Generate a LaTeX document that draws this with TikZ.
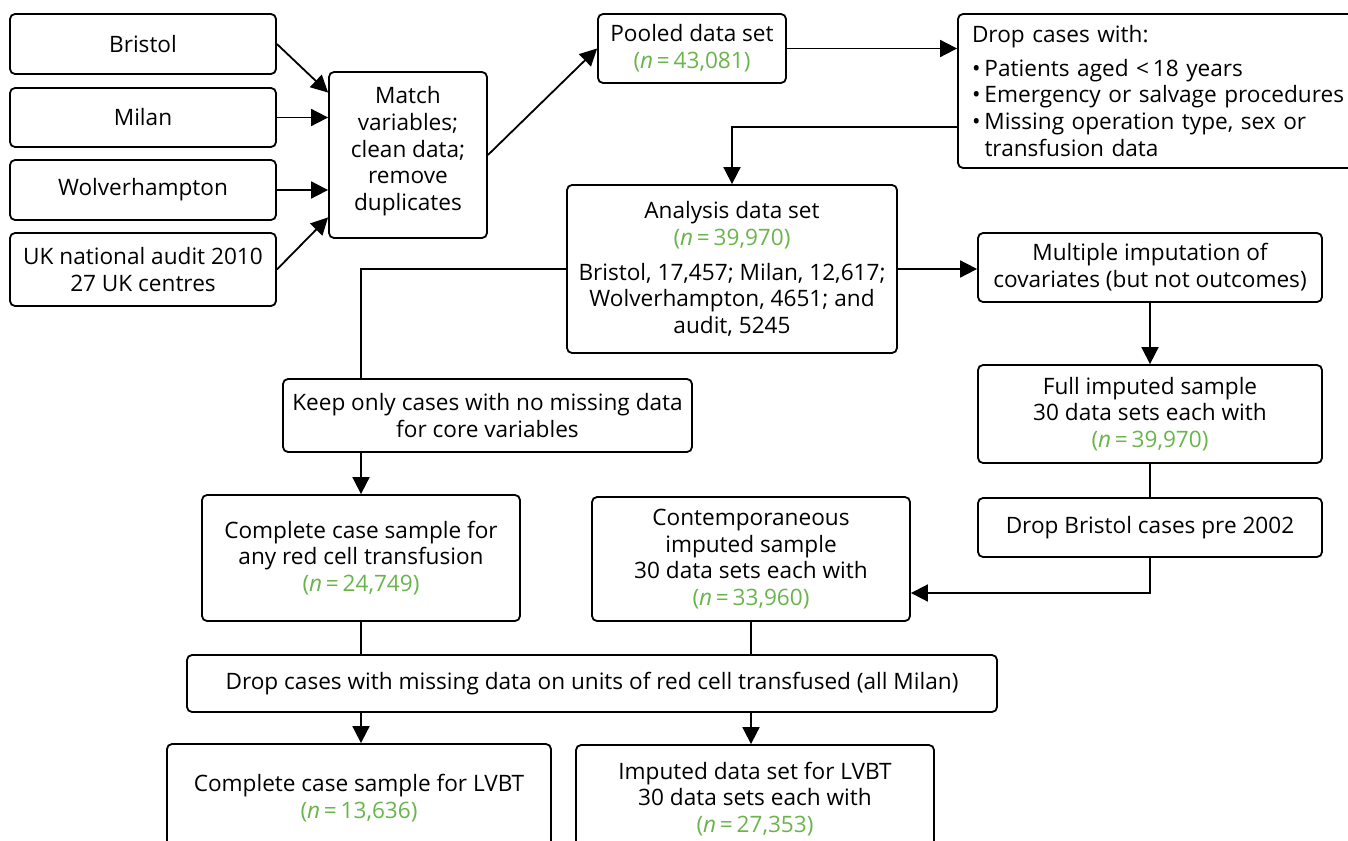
\documentclass[tikz,border=0pt]{standalone}
\usepackage{fontspec}
\setmainfont{Open Sans}
\usetikzlibrary{arrows.meta,calc}
\definecolor{nGreen}{RGB}{106,180,76}
\newcommand{\nval}[1]{{\color{nGreen}(\textit{n}\,=\,#1)}}
\newcommand{\bul}{\textbullet\hspace{4pt}}
\begin{document}
\begin{tikzpicture}[x=1pt,y=-1pt,
  box/.style={draw, line width=1.8pt, rounded corners=5pt, align=center,
    inner sep=0pt, font=\fontsize{22.6}{26.8}\selectfont},
  link/.style={line width=1.8pt},
  arr/.style={link, -{Triangle[length=17pt,width=17pt]}}]
\useasboundingbox (0,0) rectangle (1348,840);

% data sources
\node[box, minimum width=266, minimum height=60] (bristol) at (143,44) {Bristol};
\node[box, minimum width=266, minimum height=59] (milan) at (143,117.5) {Milan};
\node[box, minimum width=266, minimum height=60] (wolv) at (143,190) {Wolverhampton};
\node[box, minimum width=266, minimum height=73] (ukaudit) at (143,269.5) {UK national audit 2010\\27 UK centres};
\node[box, minimum width=158, minimum height=166] (match) at (408,155) {Match\\variables;\\clean data;\\remove\\duplicates\\[-14pt]\mbox{}};

% pooling and exclusions
\node[box, minimum width=410, minimum height=154, text width=382pt, inner xsep=14pt, align=left] (dropA) at (1163,91)
  {\hyphenpenalty=10000 Drop cases with:\\[7pt]
   \bul Patients aged <\,18 years\\
   \bul Emergency or salvage procedures\\
   \bul Missing operation type, sex or\\
   \phantom{\bul}transfusion data};
\node[box, minimum width=188, minimum height=69] (pooled) at (692,48.5) {Pooled data set\\\nval{43,081}};
\node[box, minimum width=330, minimum height=168] (analysis) at (732,269)
  {Analysis data set\\\nval{39,970}\\[8pt]
   Bristol, 17,457; Milan, 12,617;\\Wolverhampton, 4651; and\\audit, 5245};

% imputation branch
\node[box, minimum width=344, minimum height=69] (multi) at (1150,267.5) {Multiple imputation of\\covariates (but not outcomes)};
\node[box, minimum width=344, minimum height=98] (full) at (1150,414) {Full imputed sample\\30 data sets each with\\\nval{39,970}};
\node[box, minimum width=344, minimum height=59] (dropB) at (1150,527.5) {Drop Bristol cases pre 2002};
\node[box, minimum width=318, minimum height=124] (contemp) at (751,559) {Contemporaneous\\imputed sample\\30 data sets each with\\\nval{33,960}};

% complete-case branch
\node[box, minimum width=409, minimum height=73] (keep) at (487.5,415.5) {Keep only cases with no missing data\\for core variables};
\node[box, minimum width=318, minimum height=126] (complete) at (361,558) {Complete case sample for\\any red cell transfusion\\\nval{24,749}};

% final samples
\node[box, minimum width=810, minimum height=57] (dropU) at (592,683.5) {Drop cases with missing data on units of red cell transfused (all Milan)};
\node[box, minimum width=384, minimum height=108] (lvbtA) at (359,798) {Complete case sample for LVBT\\\nval{13,636}};
\node[box, minimum width=358, minimum height=108] (lvbtB) at (755,799) {Imputed data set for LVBT\\30 data sets each with\\\nval{27,353}};

% connectors
\draw[arr] (bristol.east) -- (match.142);
\draw[arr] (milan.east) -- (milan.east -| match.west);
\draw[arr] (wolv.east) -- (wolv.east -| match.west);
\draw[arr] (ukaudit.east) -- (match.218);
\draw[arr] (match.east) -- (pooled.west);
\draw[arr] (pooled.east) -- (pooled.east -| dropA.west);
\draw[arr] ($(dropA.west)+(0,36)$) -| (analysis.north);
\draw[arr] (analysis.east) -- (analysis.east -| multi.west);
\draw[arr] (multi.south) -- (full.north);
\draw[link] (full.south) -- (dropB.north);
\draw[arr] (dropB.south) |- ($(contemp.east)+(0,34)$);
\draw[link] (analysis.west) -| (keep.north -| complete.north);
\draw[arr] (keep.south -| complete.north) -- (complete.north);
\draw[link] (complete.south) -- (complete.south |- dropU.north);
\draw[link] (contemp.south) -- (contemp.south |- dropU.north);
\draw[arr] (complete.south |- dropU.south) -- (complete.south |- lvbtA.north);
\draw[arr] (contemp.south |- dropU.south) -- (contemp.south |- lvbtB.north);
\end{tikzpicture}
\end{document}
